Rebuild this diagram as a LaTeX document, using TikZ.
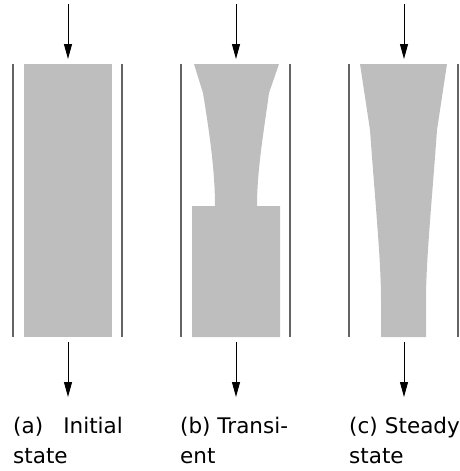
\documentclass[tikz,border=0pt]{standalone}
\usepackage{fontspec}
\setmainfont{DejaVu Sans}
\usetikzlibrary{arrows.meta}
\definecolor{fillgrey}{RGB}{190,190,190}
\definecolor{wallgrey}{RGB}{100,100,100}
\tikzset{
  wall/.style={draw=wallgrey,line width=1.3pt},
  flow/.style={draw=black,line width=1pt,-{Triangle[length=15pt,width=8pt]}},
  blob/.style={fill=fillgrey,draw=none},
  captext/.style={inner sep=0pt,font=\fontsize{21.5}{30}\selectfont}
}
\begin{document}
\begin{tikzpicture}[x=1pt,y=-1pt]
\useasboundingbox (0,0) rectangle (460,471);
% panel (a)
\draw[wall] (13,64) -- (13,337);
\draw[wall] (122,64) -- (122,337);
\fill[blob] (24,64) rectangle (112,337);
\coordinate (a1) at (68,4);
\coordinate (a2) at (68,59);
\coordinate (a3) at (68,342);
\coordinate (a4) at (68,397);
\draw[flow] (a1) -- (a2);
\draw[flow] (a3) -- (a4);
% panel (b)
\draw[wall] (181,64) -- (181,337);
\draw[wall] (290,64) -- (290,337);
\fill[blob] (194,64) -- (279,64) -- (269,93)
  .. controls (264,130) and (257,170) .. (257,206)
  -- (280,206) -- (280,337) -- (192,337) -- (192,206) -- (215,206)
  .. controls (215,170) and (209,130) .. (203,93) -- cycle;
\coordinate (b1) at (236,4);
\coordinate (b2) at (236,59);
\coordinate (b3) at (236,342);
\coordinate (b4) at (236,397);
\draw[flow] (b1) -- (b2);
\draw[flow] (b3) -- (b4);
% panel (c)
\draw[wall] (349,64) -- (349,337);
\draw[wall] (458,64) -- (458,337);
\fill[blob] (360,64) -- (447,64) -- (437,130)
  .. controls (432,200) and (426,260) .. (426,300) -- (426,337)
  -- (381,337) -- (381,300)
  .. controls (381,260) and (375,200) .. (370,130) -- cycle;
\coordinate (c1) at (404,4);
\coordinate (c2) at (404,59);
\coordinate (c3) at (404,342);
\coordinate (c4) at (404,397);
\draw[flow] (c1) -- (c2);
\draw[flow] (c3) -- (c4);
% captions
\node[captext,anchor=base west] (la1) at (13,433) {(a)};
\node[captext,anchor=base east] (la2) at (123,433) {Initial};
\node[captext,anchor=base west] (la3) at (13,463) {state};
\node[captext,anchor=base west] (lb1) at (180,433) {(b) Transi-};
\node[captext,anchor=base west] (lb2) at (180,463) {ent};
\node[captext,anchor=base west] (lc1) at (349,433) {(c)};
\node[captext,anchor=base east] (lc2) at (460,433) {Steady};
\node[captext,anchor=base west] (lc3) at (349,463) {state};
\end{tikzpicture}
\end{document}
